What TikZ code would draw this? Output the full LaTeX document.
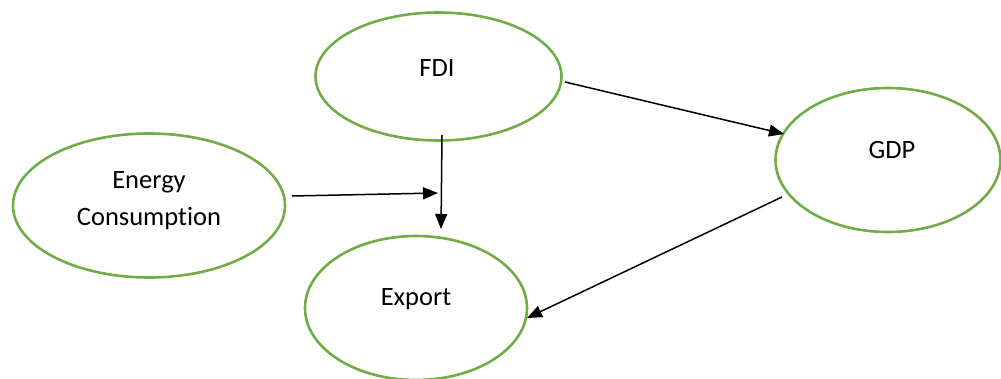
\documentclass[tikz,border=0pt]{standalone}
\usepackage{fontspec}
\setmainfont[Ligatures=NoCommon]{Carlito}
\usetikzlibrary{arrows.meta,shapes.geometric}
\definecolor{ovalgreen}{HTML}{70AD47}
\tikzset{
  oval/.style={ellipse, draw=ovalgreen, line width=2.6pt, inner sep=0pt},
  lbl/.style={font=\fontsize{26.5}{37}\selectfont, align=center, inner sep=0pt},
  arr/.style={line width=1.5pt, -{Triangle[length=15pt,width=12pt]}}
}
\begin{document}
\begin{tikzpicture}[x=1pt,y=-1pt]
\useasboundingbox (0,0) rectangle (1001,379);
\node[oval, minimum width=246pt, minimum height=128pt] (fdi) at (438.5,76.5) {};
\node[oval, minimum width=272pt, minimum height=144pt] (energy) at (149,205.5) {};
\node[oval, minimum width=225pt, minimum height=144pt] (gdp) at (888,160) {};
\node[oval, minimum width=222pt, minimum height=144pt] (export) at (416,308) {};
\node[lbl] (tfdi) at (437,68) {FDI};
\node[lbl] (tenergy) at (149,201) {Energy\\Consumption};
\node[lbl] (tgdp) at (892,150) {GDP};
\node[lbl] (texport) at (416,299) {Export};
\coordinate (a1) at (442,135);
\coordinate (a2) at (441,229);
\coordinate (b1) at (292,196);
\coordinate (b2) at (438,193);
\coordinate (c1) at (565,82);
\coordinate (c2) at (784,134);
\coordinate (d1) at (782,197);
\coordinate (d2) at (527,318);
\draw[arr] (a1) -- (a2);
\draw[arr] (b1) -- (b2);
\draw[arr] (c1) -- (c2);
\draw[arr] (d1) -- (d2);
\end{tikzpicture}
\end{document}
